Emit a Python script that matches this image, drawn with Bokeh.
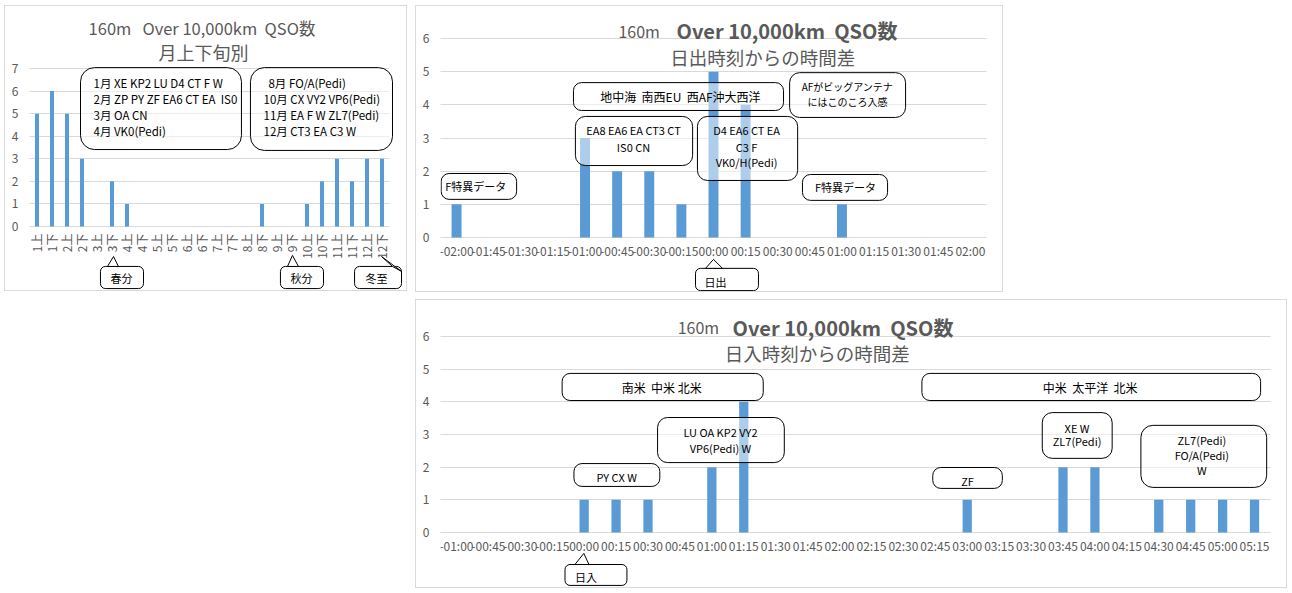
from bokeh.plotting import figure
from bokeh.models import BoxAnnotation, Label, PolyAnnotation, FactorRange, Range1d, Spacer
from bokeh.layouts import row, column
from bokeh.embed import file_html
from bokeh.resources import INLINE

FONT = "Noto Sans CJK JP"
GRAY = "#595959"
BAR = "#5b9bd5"
GRID = "#d9d9d9"
SP = "\u00a0"

# ---------------- data ----------------
month_cats = ["1上", "1下", "2上", "2下", "3上", "3下", "4上", "4下", "5上", "5下", "6上", "6下",
              "7上", "7下", "8上", "8下", "9上", "9下", "10上", "10下", "11上", "11下", "12上", "12下"]
month_qso = [5, 6, 5, 3, 0, 2, 1, 0, 0, 0, 0, 0, 0, 0, 0, 1, 0, 0, 1, 2, 3, 2, 3, 3]

sunrise_cats = ["-02:00", "-01:45", "-01:30", "-01:15", "-01:00", "-00:45", "-00:30", "-00:15",
                "00:00", "00:15", "00:30", "00:45", "01:00", "01:15", "01:30", "01:45", "02:00"]
sunrise_qso = [1, 0, 0, 0, 3, 2, 2, 1, 5, 4, 0, 0, 1, 0, 0, 0, 0]

sunset_cats = ["-01:00", "-00:45", "-00:30", "-00:15", "00:00", "00:15", "00:30", "00:45",
               "01:00", "01:15", "01:30", "01:45", "02:00", "02:15", "02:30", "02:45",
               "03:00", "03:15", "03:30", "03:45", "04:00", "04:15", "04:30", "04:45",
               "05:00", "05:15"]
sunset_qso = [0, 0, 0, 0, 1, 1, 1, 0, 2, 4, 0, 0, 0, 0, 0, 0, 1, 0, 0, 2, 2, 0, 1, 1, 1, 1]


def make_fig(cats, vals, w, h, ymax, y0, y1, bl, br, bar_w, xstand, ystand, pad,
             orient="horizontal"):
    xr = FactorRange(factors=cats, range_padding=pad, range_padding_units="absolute")
    p = figure(x_range=xr, y_range=Range1d(y0, y1),
               width=w, height=h, output_backend="svg", toolbar_location=None,
               min_border_left=bl, min_border_right=br, min_border_top=0, min_border_bottom=0)
    p.outline_line_color = None
    p.vbar(x=cats, top=vals, width=bar_w, color=BAR, line_color=None)
    p.xgrid.grid_line_color = None
    p.ygrid.grid_line_color = GRID
    g = p.ygrid[0]
    if "cross_bounds" in g.properties():
        g.cross_bounds = (-0.03, len(cats) + 0.03)
    p.yaxis.ticker = list(range(0, ymax + 1))
    for ax in (p.xaxis[0], p.yaxis[0]):
        ax.axis_line_color = None
        ax.major_tick_line_color = None
        ax.minor_tick_line_color = None
        ax.major_tick_out = 0
        ax.major_tick_in = 0
        ax.minor_tick_out = 0
        ax.major_label_text_color = GRAY
        ax.major_label_text_font = FONT
        ax.major_label_text_font_size = "12px"
    p.yaxis.major_label_standoff = ystand
    p.xaxis.fixed_location = 0
    p.xaxis.major_label_standoff = xstand
    p.xaxis.major_label_orientation = orient
    p.styles = {"border": "1px solid #d9d9d9", "box-sizing": "border-box"}
    return p


def box(p, l, r, b, t, radius=8):
    p.add_layout(BoxAnnotation(left=l, right=r, bottom=b, top=t, fill_color="white",
                               fill_alpha=0.5, line_color="black", line_alpha=1.0,
                               line_width=1, border_radius=radius))


def tail(p, xs, ys):
    p.add_layout(PolyAnnotation(xs=xs, ys=ys, fill_color="white", fill_alpha=1.0,
                                line_color="black", line_alpha=1.0, line_width=1))


def txt(p, x, y, s, size="11px", align="center", color="black", style="normal"):
    p.add_layout(Label(x=x, y=y, text=s, text_align=align, text_baseline="middle",
                       text_font=FONT, text_font_size=size, text_color=color,
                       text_font_style=style))


# ---------------- chart 1: month ----------------
p1 = make_fig(month_cats, month_qso, 403, 286, 7, -2.924, 9.747, 9, 4, 0.27, 7, -4, 1.0, 1.5708)
txt(p1, 11.5, 8.8, "160m" + SP * 3 + "Over 10,000km" + SP * 2 + "QSO数", size="16.5px", color=GRAY)
txt(p1, 11.6, 7.71, "月上下旬別", size="18px", color=GRAY)
box(p1, 3.4, 14.13, 3.41, 7.04, 14)
for yy, s in zip([6.34, 5.63, 4.96, 4.25],
                 ["1月 XE KP2 LU D4 CT F W", "2月 ZP PY ZF EA6 CT EA" + SP * 2 + "IS0", "3月 OA CN", "4月 VK0(Pedi)"]):
    txt(p1, 4.27, yy, s, size="11.5px", align="left")
box(p1, 14.73, 24.2, 3.37, 7.04, 14)
txt(p1, 15.93, 6.34, "8月 FO/A(Pedi)", size="11.5px", align="left")
for yy, s in zip([5.63, 4.96, 4.25],
                 ["10月 CX VY2 VP6(Pedi)", "11月 EA F W ZL7(Pedi)", "12月 CT3 EA C3 W"]):
    txt(p1, 15.6, yy, s, size="11.5px", align="left")
# callouts
box(p1, 4.73, 7.6, -2.75, -1.77, 5)
tail(p1, [5.2, 5.6, 5.93], [-1.77, -1.33, -1.77])
txt(p1, 5.4, -2.30, "春分", align="left")
box(p1, 16.73, 19.6, -2.75, -1.77, 5)
tail(p1, [17.2, 17.53, 17.93], [-1.77, -1.28, -1.77])
txt(p1, 17.4, -2.30, "秋分", align="left")
box(p1, 21.67, 24.8, -2.75, -1.77, 5)
tail(p1, [24.2, 23.47, 24.8], [-1.77, -1.33, -1.99])
txt(p1, 22.4, -2.30, "冬至", align="left")

# ---------------- chart 2: sunrise ----------------
p2 = make_fig(sunrise_cats, sunrise_qso, 588, 287, 6, -1.688, 6.965, 24, 18, 0.31, 4, 11, 0.0)
txt(p2, 5.54, 6.24, "160m", size="16px", align="left", color=GRAY)
txt(p2, 7.35, 6.24, "Over 10,000km" + SP * 2 + "QSO数", size="20px", align="left", color=GRAY, style="bold")
txt(p2, 10.03, 5.43, "日出時刻からの時間差", size="18.5px", color=GRAY)
box(p2, 0.02, 2.37, 1.15, 1.93)
txt(p2, 1.1, 1.54, "F特異データ")
box(p2, 4.14, 10.68, 3.83, 4.67)
txt(p2, 7.47, 4.25, "地中海" + SP * 2 + "南西EU" + SP * 2 + "西AF沖大西洋", size="12px")
box(p2, 4.20, 7.85, 2.17, 3.65, 10)
txt(p2, 6.01, 3.23, "EA8 EA6 EA CT3 CT")
txt(p2, 6.01, 2.74, "IS0 CN")
box(p2, 8.0, 11.12, 1.72, 3.65, 10)
txt(p2, 9.53, 3.23, "D4 EA6 CT EA")
txt(p2, 9.53, 2.74, "C3 F")
txt(p2, 9.53, 2.29, "VK0/H(Pedi)")
box(p2, 10.87, 14.48, 3.62, 4.97, 10)
txt(p2, 12.67, 4.55, "AFがビッグアンテナ", size="10px")
txt(p2, 12.67, 4.10, "にはこのころ入感", size="10px")
box(p2, 11.27, 13.92, 1.12, 1.90)
txt(p2, 12.61, 1.51, "F特異データ")
box(p2, 7.94, 9.90, -1.60, -0.93, 5)
tail(p2, [8.25, 8.50, 8.78], [-0.93, -0.66, -0.93])
txt(p2, 8.22, -1.33, "日出", align="left")

# ---------------- chart 3: sunset ----------------
p3 = make_fig(sunset_cats, sunset_qso, 872, 289, 6, -1.745, 7.102, 23, 16, 0.29, 5, 11, 0.0)
txt(p3, 7.43, 6.28, "160m", size="16px", align="left", color=GRAY)
txt(p3, 9.15, 6.28, "Over 10,000km" + SP * 2 + "QSO数", size="20px", align="left", color=GRAY, style="bold")
txt(p3, 11.80, 5.48, "日入時刻からの時間差", size="18.5px", color=GRAY)
box(p3, 3.81, 10.11, 4.04, 4.87)
txt(p3, 6.93, 4.44, "南米" + SP * 2 + "中米 北米", size="12px")
box(p3, 15.08, 25.69, 4.04, 4.87)
txt(p3, 20.35, 4.44, "中米" + SP * 2 + "太平洋" + SP * 2 + "北米", size="12px")
box(p3, 6.80, 10.77, 2.14, 3.52, 10)
txt(p3, 8.77, 3.09, "LU OA KP2 VY2")
txt(p3, 8.77, 2.60, "VP6(Pedi) W")
box(p3, 4.18, 6.87, 1.41, 2.11)
txt(p3, 5.52, 1.71, "PY CX W")
box(p3, 15.42, 17.60, 1.35, 1.99)
txt(p3, 16.51, 1.59, "ZF")
box(p3, 18.85, 21.04, 2.27, 3.67, 10)
txt(p3, 19.94, 3.21, "XE W")
txt(p3, 19.94, 2.79, "ZL7(Pedi)")
box(p3, 21.94, 25.88, 1.38, 3.28, 12)
txt(p3, 23.85, 2.82, "ZL7(Pedi)")
txt(p3, 23.85, 2.36, "FO/A(Pedi)")
txt(p3, 23.85, 1.90, "W")
box(p3, 3.90, 5.84, -1.62, -0.98, 5)
tail(p3, [4.21, 4.49, 4.65], [-0.98, -0.64, -0.98])
txt(p3, 4.21, -1.35, "日入", align="left")

layout = row(
    Spacer(width=4, height=10),
    column(Spacer(width=10, height=5), p1),
    Spacer(width=8, height=10),
    column(Spacer(width=10, height=5), p2, Spacer(width=10, height=7), p3),
)

open("out.html", "w").write(file_html(layout, INLINE))
